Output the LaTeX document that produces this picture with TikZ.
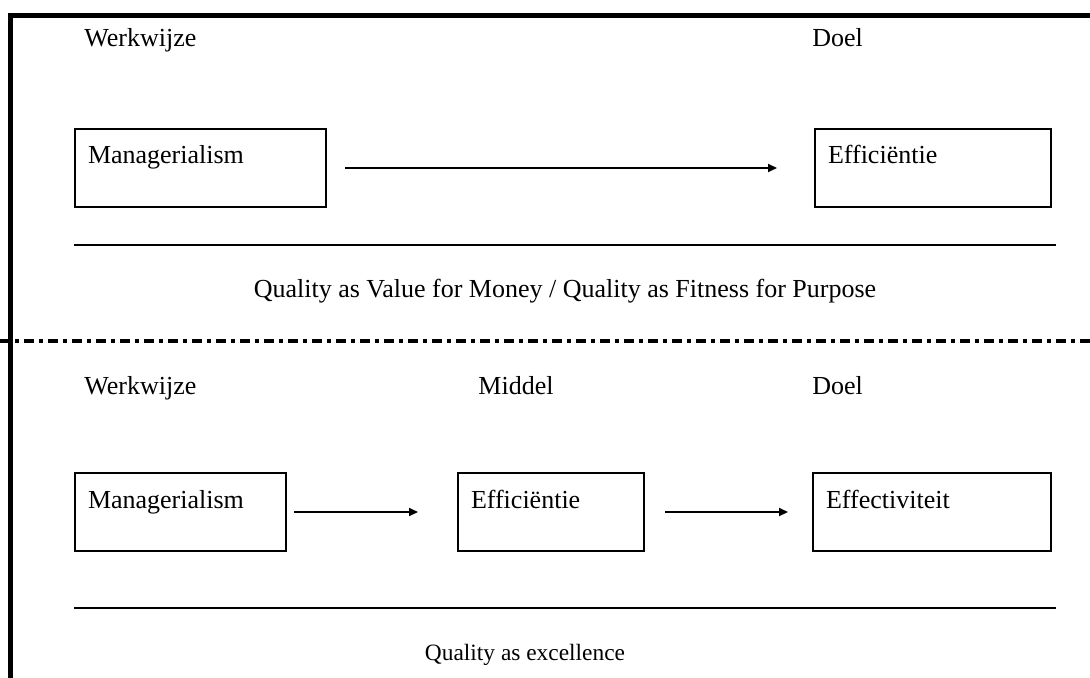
\documentclass[tikz,border=0pt]{standalone}
\usepackage{fontspec}
\setmainfont{Liberation Serif}
\usetikzlibrary{arrows.meta,positioning,calc}

\tikzset{
  box/.style={draw, line width=1pt, inner xsep=6.5pt, inner ysep=0pt, align=left,
    text height=17.5pt, text depth=21.5pt, anchor=west},
  flow/.style={-{Triangle[length=4.5pt,width=4pt]}, line width=1pt},
  rule/.style={line width=1pt},
  head/.style={anchor=base west, inner sep=0pt}
}

\begin{document}
\begin{tikzpicture}[x=0.5pt,y=-0.5pt,font=\fontsize{13}{15}\selectfont]
  \useasboundingbox (0,0) rectangle (1090,678);
  % frame
  \draw[line width=2.6pt] (10.5,678) -- (10.5,15.5) -- (1090,15.5);
  \draw[line width=1.7pt, dash pattern=on 5pt off 2.5pt on 2pt off 2.5pt] (0,341) -- (1090,341);

  % upper half
  \node[head] (w1) at (84,47) {Werkwijze};
  \node[head] (d1) at (812,47) {Doel};
  \node[box, text width=112.5pt] (m1) at (74,168) {Managerialism};
  \node[box, text width=105pt] (e1) at (814,168) {Efficiëntie};
  \draw[flow, shorten <=9pt, shorten >=18.5pt] (m1) -- (e1);
  \coordinate (l1) at (74,245);
  \coordinate (r1) at (1056,245);
  \draw[rule] (l1) -- (r1);
  \node[anchor=base] (q1) at (565,298) {Quality as Value for Money / Quality as Fitness for Purpose};

  % lower half
  \node[head] (w2) at (84,394) {Werkwijze};
  \node[head] (mi2) at (478,394) {Middel};
  \node[head] (d2) at (812,394) {Doel};
  \node[box, text width=92.5pt] (m2) at (74,512) {Managerialism};
  \node[box, text width=80pt] (e2) at (457,512) {Efficiëntie};
  \node[box, text width=106pt] (f2) at (812,512) {Effectiviteit};
  \draw[flow, shorten <=3.5pt, shorten >=19.5pt] (m2) -- (e2);
  \draw[flow, shorten <=10pt, shorten >=12pt] (e2) -- (f2);
  \coordinate (l2) at (74,608);
  \coordinate (r2) at (1056,608);
  \draw[rule] (l2) -- (r2);
  \node[anchor=base, font=\fontsize{11.7}{14}\selectfont] (q2) at (525,660) {Quality as excellence};
\end{tikzpicture}
\end{document}
